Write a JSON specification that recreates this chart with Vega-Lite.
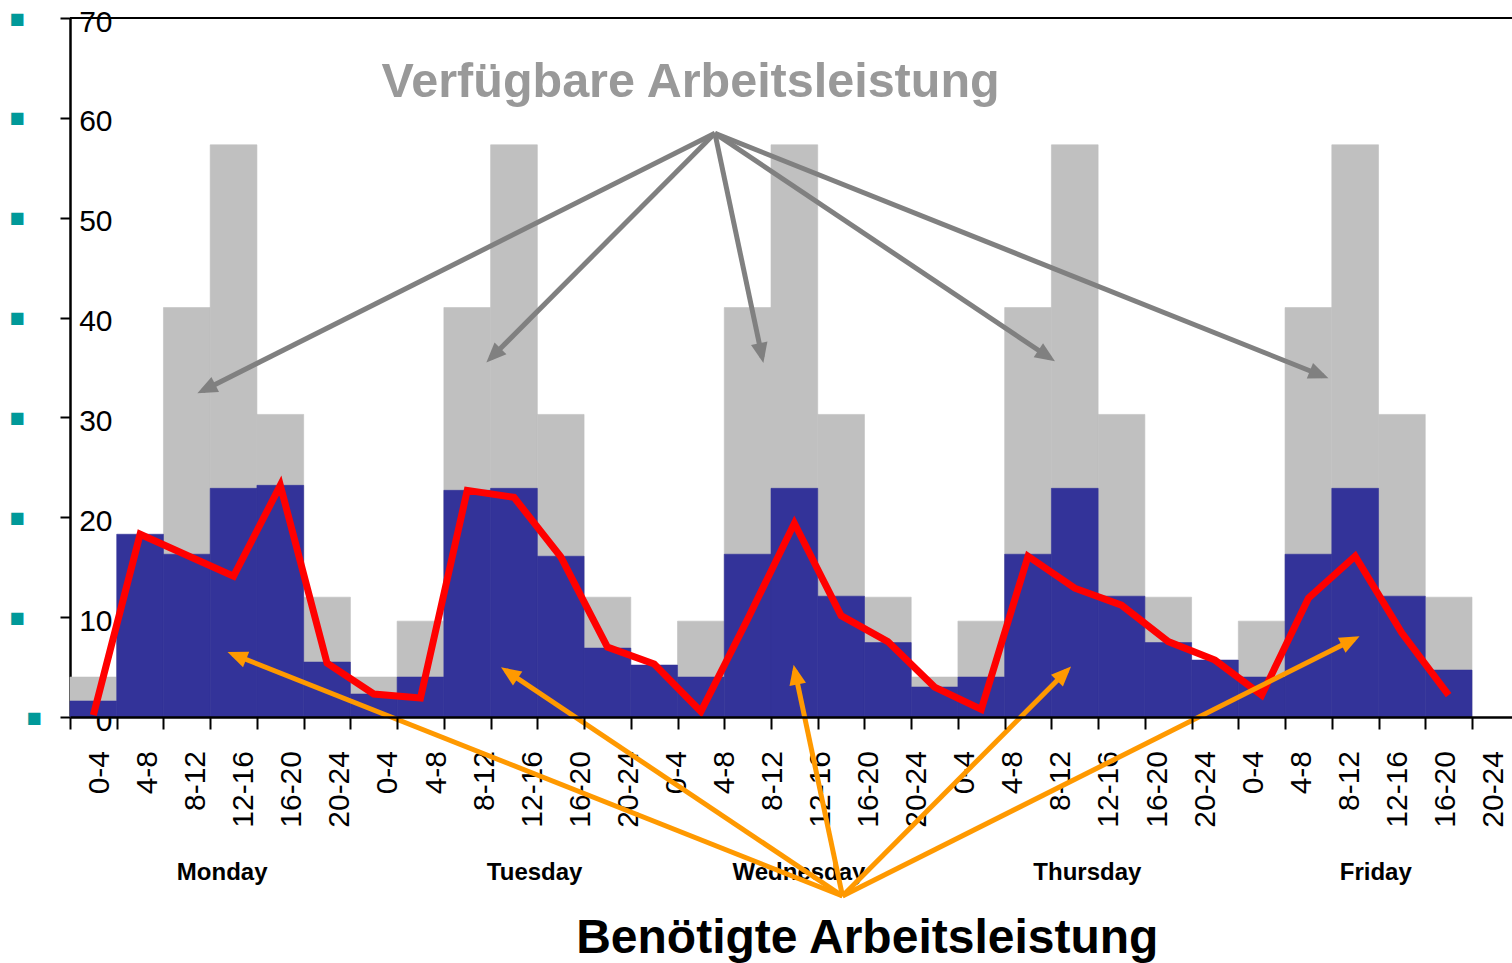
{
  "$schema": "https://vega.github.io/schema/vega-lite/v6.json",
  "width": 1442,
  "height": 699,
  "autosize": "none",
  "padding": {"left": 70, "top": 18, "right": 0, "bottom": 246},
  "background": "#ffffff",
  "config": {"view": {"stroke": null}, "font": "Liberation Sans"},
  "datasets": {
    "slots": [
      {"slot": "Mon 0-4", "time": "0-4", "available": 4, "required": 1.6, "demand": 0.2},
      {"slot": "Mon 4-8", "time": "4-8", "available": 9.6, "required": 18.3, "demand": 18.3},
      {"slot": "Mon 8-12", "time": "8-12", "available": 41, "required": 16.3, "demand": 16.2},
      {"slot": "Mon 12-16", "time": "12-16", "available": 57.3, "required": 22.9, "demand": 14.1},
      {"slot": "Mon 16-20", "time": "16-20", "available": 30.3, "required": 23.2, "demand": 23.2},
      {"slot": "Mon 20-24", "time": "20-24", "available": 12, "required": 5.5, "demand": 5.4},
      {"slot": "Tue 0-4", "time": "0-4", "available": 4, "required": 2.3, "demand": 2.3},
      {"slot": "Tue 4-8", "time": "4-8", "available": 9.6, "required": 4.0, "demand": 1.9},
      {"slot": "Tue 8-12", "time": "8-12", "available": 41, "required": 22.7, "demand": 22.7},
      {"slot": "Tue 12-16", "time": "12-16", "available": 57.3, "required": 22.9, "demand": 22.0},
      {"slot": "Tue 16-20", "time": "16-20", "available": 30.3, "required": 16.1, "demand": 16.05},
      {"slot": "Tue 20-24", "time": "20-24", "available": 12, "required": 6.9, "demand": 7.0},
      {"slot": "Wed 0-4", "time": "0-4", "available": 4, "required": 5.2, "demand": 5.3},
      {"slot": "Wed 4-8", "time": "4-8", "available": 9.6, "required": 4.0, "demand": 0.55},
      {"slot": "Wed 8-12", "time": "8-12", "available": 41, "required": 16.3, "demand": 9.8},
      {"slot": "Wed 12-16", "time": "12-16", "available": 57.3, "required": 22.9, "demand": 19.4},
      {"slot": "Wed 16-20", "time": "16-20", "available": 30.3, "required": 12.1, "demand": 10.15},
      {"slot": "Wed 20-24", "time": "20-24", "available": 12, "required": 7.45, "demand": 7.55},
      {"slot": "Thu 0-4", "time": "0-4", "available": 4, "required": 3.0, "demand": 3.0},
      {"slot": "Thu 4-8", "time": "4-8", "available": 9.6, "required": 4.0, "demand": 0.77},
      {"slot": "Thu 8-12", "time": "8-12", "available": 41, "required": 16.3, "demand": 16.1},
      {"slot": "Thu 12-16", "time": "12-16", "available": 57.3, "required": 22.9, "demand": 12.9},
      {"slot": "Thu 16-20", "time": "16-20", "available": 30.3, "required": 12.1, "demand": 11.2},
      {"slot": "Thu 20-24", "time": "20-24", "available": 12, "required": 7.45, "demand": 7.55},
      {"slot": "Fri 0-4", "time": "0-4", "available": 4, "required": 5.7, "demand": 5.7},
      {"slot": "Fri 4-8", "time": "4-8", "available": 9.6, "required": 4.0, "demand": 2.2},
      {"slot": "Fri 8-12", "time": "8-12", "available": 41, "required": 16.3, "demand": 11.9},
      {"slot": "Fri 12-16", "time": "12-16", "available": 57.3, "required": 22.9, "demand": 16.1},
      {"slot": "Fri 16-20", "time": "16-20", "available": 30.3, "required": 12.1, "demand": 8.4},
      {"slot": "Fri 20-24", "time": "20-24", "available": 12, "required": 4.7, "demand": 2.2}
    ],
    "arrows": [
      {"group": "gray", "ox": 13.80, "oy": 58.45, "tx": 2.84, "ty": 32.68},
      {"group": "gray", "ox": 13.80, "oy": 58.45, "tx": 9.00, "ty": 35.92},
      {"group": "gray", "ox": 13.80, "oy": 58.45, "tx": 14.81, "ty": 36.05},
      {"group": "gray", "ox": 13.80, "oy": 58.45, "tx": 20.97, "ty": 35.95},
      {"group": "gray", "ox": 13.80, "oy": 58.45, "tx": 26.81, "ty": 34.15},
      {"group": "orange", "ox": 16.53, "oy": -17.93, "tx": 3.49, "ty": 6.28},
      {"group": "orange", "ox": 16.53, "oy": -17.93, "tx": 9.33, "ty": 4.64},
      {"group": "orange", "ox": 16.53, "oy": -17.93, "tx": 15.51, "ty": 4.64},
      {"group": "orange", "ox": 16.53, "oy": -17.93, "tx": 21.33, "ty": 4.64},
      {"group": "orange", "ox": 16.53, "oy": -17.93, "tx": 27.48, "ty": 7.81}
    ],
    "days": [
      {"day": "Monday", "at": "Mon 8-12"},
      {"day": "Tuesday", "at": "Tue 12-16"},
      {"day": "Wednesday", "at": "Wed 8-12"},
      {"day": "Thursday", "at": "Thu 8-12"},
      {"day": "Friday", "at": "Fri 8-12"}
    ],
    "titles": [
      {"label": "Verfügbare Arbeitsleistung", "kind": "available", "x": 13.28, "y": 62.1},
      {"label": "Benötigte Arbeitsleistung", "kind": "required", "x": 17.06, "y": -23.66}
    ]
  },
  "resolve": {"scale": {"x": "independent", "color": "independent"}, "axis": {"x": "independent", "y": "independent"}},
  "layer": [
    {
      "data": {"name": "slots"},
      "mark": {"type": "bar", "color": "#C0C0C0", "stroke": "#C0C0C0", "strokeWidth": 0.6},
      "encoding": {
        "x": {"field": "slot", "type": "nominal", "sort": null, "scale": {"range": [0, 1402], "paddingInner": 0, "paddingOuter": 0}, "axis": null},
        "y": {"field": "available", "type": "quantitative", "scale": {"domain": [0, 70], "nice": false},
          "axis": {"orient": "left", "values": [0, 10, 20, 30, 40, 50, 60, 70], "title": null, "grid": false,
            "tickSize": 10, "tickWidth": 2, "tickColor": "#000000", "domainColor": "#000000", "domainWidth": 2.5,
            "labelPadding": -52, "labelOffset": 4, "labelAlign": "right", "labelBaseline": "middle", "labelFontSize": 30, "labelFont": "Liberation Sans",
            "labelColor": "#000000", "labelFlush": false, "labelOverlap": false, "labelBound": false}}
      }
    },
    {
      "data": {"name": "slots"},
      "mark": {"type": "bar", "color": "#333399", "stroke": "#333399", "strokeWidth": 0.6},
      "encoding": {
        "x": {"field": "slot", "type": "nominal", "sort": null, "scale": {"range": [0, 1402], "paddingInner": 0, "paddingOuter": 0}, "axis": null},
        "y": {"field": "required", "type": "quantitative", "scale": {"domain": [0, 70], "nice": false},
          "axis": {"orient": "left", "values": [0], "title": null, "grid": false, "domain": false, "ticks": false, "tickSize": 0,
            "labelExpr": "'■'", "labelColor": "#009999", "labelFont": "DejaVu Sans", "labelFontSize": 16,
            "labelPadding": 29, "labelAlign": "right", "labelBaseline": "middle", "labelOverlap": false, "labelBound": false, "labelFlush": false}}
      }
    },
    {
      "data": {"name": "slots"},
      "mark": {"type": "line", "color": "#FF0000", "strokeWidth": 7},
      "encoding": {
        "x": {"field": "slot", "type": "nominal", "sort": null, "scale": {"range": [0, 1402], "paddingInner": 0, "paddingOuter": 0}, "axis": null},
        "y": {"field": "demand", "type": "quantitative", "scale": {"domain": [0, 70], "nice": false}, "axis": null}
      }
    },
    {
      "data": {"name": "slots"},
      "mark": {"type": "text", "angle": 270, "align": "right", "baseline": "middle", "dx": -34, "dy": 6, "fontSize": 30, "font": "Liberation Sans", "color": "#000000"},
      "encoding": {
        "x": {"field": "slot", "type": "nominal", "sort": null, "scale": {"paddingInner": 0, "paddingOuter": 0}, "axis": null},
        "y": {"datum": 0, "type": "quantitative", "scale": {"domain": [0, 70], "nice": false}, "axis": null},
        "text": {"field": "time"}
      }
    },
    {
      "data": {"name": "days"},
      "transform": [{"filter": "datum.day != 'Tuesday'"}],
      "mark": {"type": "text", "fontSize": 24, "fontWeight": "bold", "font": "Liberation Sans", "align": "center", "baseline": "alphabetic", "dx": 32, "color": "#000000"},
      "encoding": {
        "x": {"field": "at", "type": "nominal",
          "scale": {"domain": ["Mon 0-4","Mon 4-8","Mon 8-12","Mon 12-16","Mon 16-20","Mon 20-24","Tue 0-4","Tue 4-8","Tue 8-12","Tue 12-16","Tue 16-20","Tue 20-24","Wed 0-4","Wed 4-8","Wed 8-12","Wed 12-16","Wed 16-20","Wed 20-24","Thu 0-4","Thu 4-8","Thu 8-12","Thu 12-16","Thu 16-20","Thu 20-24","Fri 0-4","Fri 4-8","Fri 8-12","Fri 12-16","Fri 16-20","Fri 20-24"], "paddingInner": 0, "paddingOuter": 0},
          "axis": null},
        "y": {"datum": -16.3, "type": "quantitative", "scale": {"domain": [0, 70], "nice": false}, "axis": null},
        "text": {"field": "day"}
      }
    },
    {
      "data": {"name": "days"},
      "transform": [{"filter": "datum.day == 'Tuesday'"}],
      "mark": {"type": "text", "fontSize": 24, "fontWeight": "bold", "font": "Liberation Sans", "align": "center", "baseline": "alphabetic", "dx": 8, "color": "#000000"},
      "encoding": {
        "x": {"field": "at", "type": "nominal",
          "scale": {"domain": ["Mon 0-4","Mon 4-8","Mon 8-12","Mon 12-16","Mon 16-20","Mon 20-24","Tue 0-4","Tue 4-8","Tue 8-12","Tue 12-16","Tue 16-20","Tue 20-24","Wed 0-4","Wed 4-8","Wed 8-12","Wed 12-16","Wed 16-20","Wed 20-24","Thu 0-4","Thu 4-8","Thu 8-12","Thu 12-16","Thu 16-20","Thu 20-24","Fri 0-4","Fri 4-8","Fri 8-12","Fri 12-16","Fri 16-20","Fri 20-24"], "paddingInner": 0, "paddingOuter": 0},
          "axis": null},
        "y": {"datum": -16.3, "type": "quantitative", "scale": {"domain": [0, 70], "nice": false}, "axis": null},
        "text": {"field": "day"}
      }
    },
    {
      "data": {"values": [{}]},
      "mark": {"type": "rule", "color": "#000000", "strokeWidth": 2},
      "encoding": {
        "y": {"datum": 70, "type": "quantitative", "scale": {"domain": [0, 70], "nice": false},
          "axis": {"orient": "left", "values": [10, 20, 30, 40, 50, 60, 70], "title": null, "grid": false, "domain": false, "ticks": false, "tickSize": 0,
            "labelExpr": "'■'", "labelColor": "#009999", "labelFont": "DejaVu Sans", "labelFontSize": 16,
            "labelPadding": 46, "labelAlign": "right", "labelBaseline": "middle", "labelOverlap": false, "labelBound": false, "labelFlush": false}}
      }
    },
    {
      "data": {"name": "arrows"},
      "mark": {"type": "rule", "strokeWidth": 5},
      "encoding": {
        "x": {"field": "ox", "type": "quantitative", "scale": {"domain": [0, 30.856], "nice": false, "zero": false},
          "axis": {"orient": "bottom", "values": [0,1,2,3,4,5,6,7,8,9,10,11,12,13,14,15,16,17,18,19,20,21,22,23,24,25,26,27,28,29,30],
            "labels": false, "title": null, "grid": false, "tickSize": 12, "tickWidth": 2, "tickColor": "#000000",
            "domainColor": "#000000", "domainWidth": 2.5, "zindex": 1}},
        "x2": {"field": "tx"},
        "y": {"field": "oy", "type": "quantitative", "scale": {"domain": [0, 70], "nice": false}, "axis": null},
        "y2": {"field": "ty"},
        "color": {"field": "group", "type": "nominal", "scale": {"domain": ["gray", "orange"], "range": ["#808080", "#FF9900"]}, "legend": null}
      }
    },
    {
      "data": {"name": "arrows"},
      "transform": [{"calculate": "atan2((datum.tx - datum.ox) * 46.733, (datum.ty - datum.oy) * 9.986) * 180 / PI", "as": "ang"}],
      "mark": {"type": "point", "shape": "M0,-0.3L-0.42,0.7L0.42,0.7Z", "filled": true, "size": 1600, "opacity": 1, "strokeWidth": 0},
      "encoding": {
        "x": {"field": "tx", "type": "quantitative", "scale": {"domain": [0, 30.856], "nice": false, "zero": false}, "axis": null},
        "y": {"field": "ty", "type": "quantitative", "scale": {"domain": [0, 70], "nice": false}, "axis": null},
        "angle": {"field": "ang", "type": "quantitative", "scale": null},
        "color": {"field": "group", "type": "nominal", "scale": {"domain": ["gray", "orange"], "range": ["#808080", "#FF9900"]}, "legend": null}
      }
    },
    {
      "data": {"name": "titles"},
      "transform": [{"filter": "datum.kind == 'available'"}],
      "mark": {"type": "text", "fontSize": 48.5, "fontWeight": "bold", "font": "Liberation Sans", "align": "center", "baseline": "alphabetic", "color": "#999999"},
      "encoding": {
        "x": {"field": "x", "type": "quantitative", "scale": {"domain": [0, 30.856], "nice": false, "zero": false}, "axis": null},
        "y": {"field": "y", "type": "quantitative", "scale": {"domain": [0, 70], "nice": false}, "axis": null},
        "text": {"field": "label"}
      }
    },
    {
      "data": {"name": "titles"},
      "transform": [{"filter": "datum.kind == 'required'"}],
      "mark": {"type": "text", "fontSize": 48, "fontWeight": "bold", "font": "Liberation Sans", "align": "center", "baseline": "alphabetic", "color": "#000000"},
      "encoding": {
        "x": {"field": "x", "type": "quantitative", "scale": {"domain": [0, 30.856], "nice": false, "zero": false}, "axis": null},
        "y": {"field": "y", "type": "quantitative", "scale": {"domain": [0, 70], "nice": false}, "axis": null},
        "text": {"field": "label"}
      }
    }
  ]
}
